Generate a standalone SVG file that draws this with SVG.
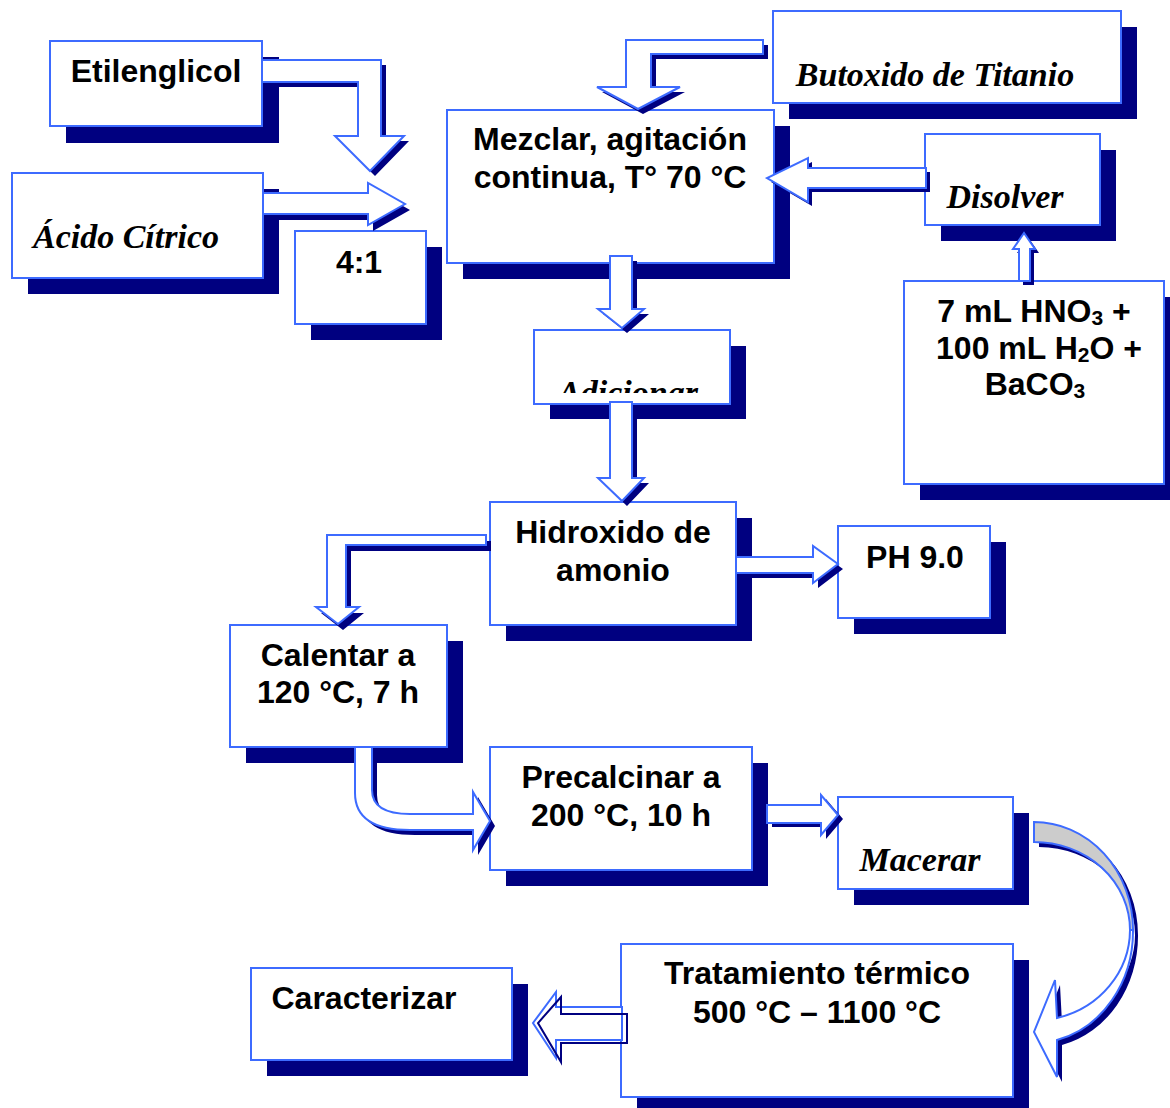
<svg xmlns="http://www.w3.org/2000/svg" width="1170" height="1108" viewBox="0 0 1170 1108">
<defs>
<style>
.sh{fill:#000080}
.bx{fill:#fff;stroke:#3d6bff;stroke-width:2}
.ar{fill:#fff;stroke:#3d6bff;stroke-width:2;stroke-linejoin:miter}
.ash{fill:#000080}
.sans{font-family:"Liberation Sans",Arial,sans-serif;font-weight:bold;font-size:32px;fill:#000;text-anchor:middle}
.ser{font-family:"Liberation Serif","Times New Roman",serif;font-weight:bold;font-style:italic;font-size:34px;fill:#000;text-anchor:middle}
</style>
<clipPath id="clipAd"><rect x="536" y="331" width="192" height="62"/></clipPath>
</defs>
<rect width="1170" height="1108" fill="#fff"/>

<g id="etilenglicol">
<rect class="sh" x="66" y="57" width="213" height="86"/>
<rect class="bx" x="50" y="41" width="212" height="85"/>
<text class="sans" x="156" y="82">Etilenglicol</text>
</g>
<g id="acido">
<rect class="sh" x="28" y="189" width="251" height="105"/>
<rect class="bx" x="12" y="173" width="251" height="105"/>
<text class="ser" x="126" y="248">Ácido Cítrico</text>
</g>
<g id="ratio">
<rect class="sh" x="311" y="247" width="131" height="93"/>
<rect class="bx" x="295" y="231" width="131" height="93"/>
<text class="sans" x="359" y="273">4:1</text>
</g>
<g id="mezclar">
<rect class="sh" x="463" y="126" width="327" height="153"/>
<rect class="bx" x="447" y="110" width="327" height="153"/>
<text class="sans" x="610" y="150">Mezclar, agitación</text>
<text class="sans" x="610" y="188">continua, T° 70 °C</text>
</g>
<g id="butoxido">
<rect class="sh" x="789" y="27" width="348" height="92"/>
<rect class="bx" x="773" y="11" width="348" height="92"/>
<text class="ser" x="935" y="86">Butoxido de Titanio</text>
</g>
<g id="disolver">
<rect class="sh" x="941" y="150" width="175" height="91"/>
<rect class="bx" x="925" y="134" width="175" height="91"/>
<text class="ser" x="1005" y="208">Disolver</text>
</g>
<g id="solucion">
<rect class="sh" x="920" y="297" width="260" height="203"/>
<rect class="bx" x="904" y="281" width="260" height="203"/>
<text class="sans" x="1034" y="322">7 mL HNO<tspan font-size="21" dy="3">3</tspan><tspan dy="-3"> +</tspan></text>
<text class="sans" x="1039" y="359">100 mL H<tspan font-size="21" dy="3">2</tspan><tspan dy="-3">O +</tspan></text>
<text class="sans" x="1035" y="395">BaCO<tspan font-size="21" dy="3">3</tspan></text>
</g>
<g id="adicionar">
<rect class="sh" x="550" y="346" width="196" height="73"/>
<rect class="bx" x="534" y="330" width="196" height="74"/>
<text class="ser" x="628" y="404" clip-path="url(#clipAd)">Adicionar</text>
</g>
<g id="hidroxido">
<rect class="sh" x="506" y="518" width="246" height="123"/>
<rect class="bx" x="490" y="502" width="246" height="123"/>
<text class="sans" x="613" y="543">Hidroxido de</text>
<text class="sans" x="613" y="581">amonio</text>
</g>
<g id="ph">
<rect class="sh" x="854" y="542" width="152" height="92"/>
<rect class="bx" x="838" y="526" width="152" height="92"/>
<text class="sans" x="915" y="568">PH 9.0</text>
</g>
<g id="calentar">
<rect class="sh" x="246" y="641" width="217" height="122"/>
<rect class="bx" x="230" y="625" width="217" height="122"/>
<text class="sans" x="338" y="666">Calentar a</text>
<text class="sans" x="338" y="703">120 °C, 7 h</text>
</g>
<g id="precalcinar">
<rect class="sh" x="506" y="763" width="262" height="123"/>
<rect class="bx" x="490" y="747" width="262" height="123"/>
<text class="sans" x="621" y="788">Precalcinar a</text>
<text class="sans" x="621" y="826">200 °C, 10 h</text>
</g>
<g id="macerar">
<rect class="sh" x="854" y="813" width="175" height="92"/>
<rect class="bx" x="838" y="797" width="175" height="92"/>
<text class="ser" x="920" y="871">Macerar</text>
</g>
<g id="tratamiento">
<rect class="sh" x="637" y="960" width="392" height="153"/>
<rect class="bx" x="621" y="944" width="392" height="153"/>
<text class="sans" x="817" y="984">Tratamiento térmico</text>
<text class="sans" x="817" y="1023">500 °C – 1100 °C</text>
</g>
<g id="caracterizar">
<rect class="sh" x="267" y="984" width="261" height="92"/>
<rect class="bx" x="251" y="968" width="261" height="92"/>
<text class="sans" x="364" y="1009">Caracterizar</text>
</g>

<g id="connectors">
<g>
<polygon class="ash" transform="translate(5,5)" points="262,60 381,60 381,136 404,136 370,171 335,136 358,136 358,82 262,82"/>
<polygon class="ar" points="262,60 381,60 381,136 404,136 370,171 335,136 358,136 358,82 262,82"/>
</g>
<g>
<polygon class="ash" transform="translate(5,6)" points="263,193 368,193 368,183 405,204 368,225 368,214 263,214"/>
<polygon class="ar" points="263,193 368,193 368,183 405,204 368,225 368,214 263,214"/>
</g>
<g>
<polygon class="ash" transform="translate(5,5)" points="763,40 763,54 651,54 651,87 680,87 638,109 597,87 626,87 626,40"/>
<polygon class="ar" points="763,40 763,54 651,54 651,87 680,87 638,109 597,87 626,87 626,40"/>
</g>
<g>
<polygon class="ash" transform="translate(4,4)" points="926,168 808,168 808,158 767,178 808,202 808,188 926,188"/>
<polygon class="ar" points="926,168 808,168 808,158 767,178 808,202 808,188 926,188"/>
</g>
<g>
<polygon class="ash" transform="translate(4,4)" points="1019,281 1019,249 1013,249 1024,233 1035,249 1030,249 1030,281"/>
<polygon class="ar" points="1019,281 1019,249 1013,249 1024,233 1035,249 1030,249 1030,281"/>
</g>
<g>
<polygon class="ash" transform="translate(5,5)" points="610,256 632,256 632,309 644,309 622,328 598,309 610,309"/>
<polygon class="ar" points="610,256 632,256 632,309 644,309 622,328 598,309 610,309"/>
</g>
<g>
<polygon class="ash" transform="translate(5,5)" points="610,402 632,402 632,478 644,478 622,501 598,478 610,478"/>
<polygon class="ar" points="610,402 632,402 632,478 644,478 622,501 598,478 610,478"/>
</g>
<g>
<polygon class="ash" transform="translate(5,6)" points="486,535 486,545 346,545 346,607 359,607 338,624 316,607 327,607 327,535"/>
<polygon class="ar" points="486,535 486,545 346,545 346,607 359,607 338,624 316,607 327,607 327,535"/>
</g>
<g>
<polygon class="ash" transform="translate(5,5)" points="736,557 813,557 813,546 838,564 813,583 813,573 736,573"/>
<polygon class="ar" points="736,557 813,557 813,546 838,564 813,583 813,573 736,573"/>
</g>
<g>
<path class="ash" transform="translate(5,5)" d="M355,747 L355,793 Q355,830 410,830 L473,830 L473,850 L490,821 L473,792 L473,814 L410,814 Q372,814 372,790 L372,747 Z"/>
<path class="ar" d="M355,747 L355,793 Q355,830 410,830 L473,830 L473,850 L490,821 L473,792 L473,814 L410,814 Q372,814 372,790 L372,747 Z"/>
</g>
<g>
<polygon class="ash" transform="translate(5,4)" points="767,805 821,805 821,795 838,815 821,835 821,823 767,823"/>
<polygon class="ar" points="767,805 821,805 821,795 838,815 821,835 821,823 767,823"/>
</g>
<g>
<path class="ash" transform="translate(5,5)" d="M1034,822 A99,108 0 0 1 1133,930 L1130,930 A96,88 0 0 0 1034,842 Z"/>
<path class="ash" transform="translate(5,5)" d="M1133,930 A99,112 0 0 1 1057,1040 L1057,1077 L1034,1032 L1055,980 L1057,1018 A96,91 0 0 0 1130,930 Z"/>
<path d="M1034,822 A99,108 0 0 1 1133,930 L1130,930 A96,88 0 0 0 1034,842 Z" fill="#cccccc" stroke="#3d6bff" stroke-width="2"/>
<path class="ar" d="M1133,930 A99,112 0 0 1 1057,1040 L1057,1077 L1034,1032 L1055,980 L1057,1018 A96,91 0 0 0 1130,930 Z"/>
</g>
<g>
<polygon class="ar" points="622,1007 556,1007 556,992 533,1023 556,1058 556,1040 622,1040"/>
<polygon fill="none" stroke="#000080" stroke-width="2" transform="translate(5,5)" points="622,1009 556,1009 556,992 533,1018 556,1057 556,1038 622,1038"/>
</g>
</g>
</svg>
